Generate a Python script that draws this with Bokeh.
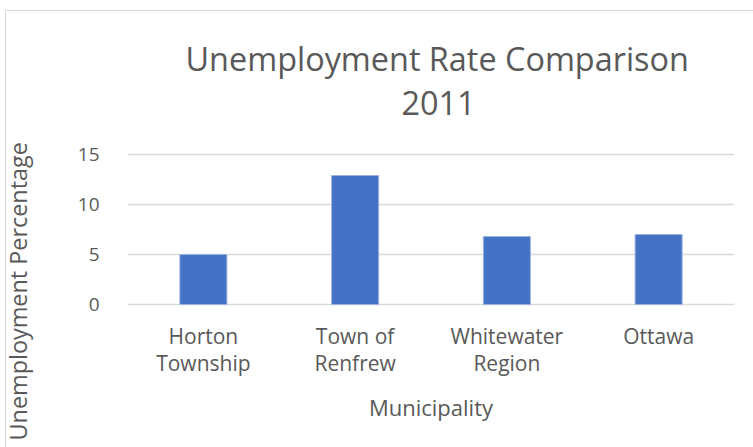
from bokeh.plotting import figure
from bokeh.layouts import column
from bokeh.models import Range1d, Title
from bokeh.embed import file_html
from bokeh.resources import INLINE

categories = ["Horton\nTownship", "Town of\nRenfrew", "Whitewater\nRegion", "Ottawa"]
rates = [5.0, 12.9, 6.8, 7.0]
y_ticks = [0, 5, 10, 15]
title_lines = ["Unemployment Rate Comparison", "2011"]

FONT = "Open Sans"
GREY = "#595959"

p = figure(width=801, height=436, x_range=categories, y_range=Range1d(-0.2, 15.2),
           output_backend="svg", toolbar_location=None,
           margin=(0, 0, 0, -54),
           min_border_left=175, min_border_right=18, min_border_top=141, min_border_bottom=141)
p.outline_line_color = None
p.background_fill_color = "white"
p.border_fill_color = None

p.vbar(x=categories, top=rates, width=0.31, fill_color="#4472c4", line_color="#9bb3e0", line_width=1)

p.x_range.range_padding = 0
p.xgrid.grid_line_color = None
p.ygrid.grid_line_color = "#d9d9d9"
p.ygrid.grid_line_width = 1.3
p.yaxis.ticker = y_ticks

for ax in (p.xaxis, p.yaxis):
    ax.axis_line_color = None
    ax.major_tick_line_color = None
    ax.minor_tick_line_color = None
    ax.major_label_text_font = FONT
    ax.major_label_text_color = GREY
    ax.axis_label_text_font = FONT
    ax.axis_label_text_color = GREY
    ax.axis_label_text_font_style = "normal"

p.yaxis.major_label_text_font_size = "19px"
p.yaxis.major_label_standoff = 22
p.xaxis.major_label_text_font_size = "21px"
p.xaxis.major_label_text_line_height = 0.98
p.xaxis.major_label_standoff = 9
p.xaxis.axis_label = "Municipality"
p.xaxis.axis_label_text_font_size = "22px"
p.xaxis.axis_label_standoff = 12

# y axis title, starting below the plot frame like the reference
p.add_layout(Title(text="Unemployment Percentage", align="left", offset=-134, standoff=82,
                   text_font=FONT, text_font_size="23.4px", text_color=GREY,
                   text_font_style="normal"), "left")

# two-line chart title (first added sits closest to the plot)
p.add_layout(Title(text=title_lines[1], align="left", offset=274, standoff=75,
                   text_font=FONT, text_font_size="32.4px", text_color=GREY,
                   text_font_style="normal"), "above")
p.add_layout(Title(text=title_lines[0], align="left", offset=58, standoff=-56,
                   text_font=FONT, text_font_size="32.4px", text_color=GREY,
                   text_font_style="normal"), "above")

layout = column(p, width=801, height=437, margin=(10, 0, 0, 5),
                styles={"border-left": "1px solid #d9d9d9", "border-top": "1px solid #d9d9d9"})

html = file_html(layout, INLINE)
html = html.replace("<head>", "<head><style>html,body{overflow:hidden;margin:0;}</style>", 1)
open("out.html", "w").write(html)
